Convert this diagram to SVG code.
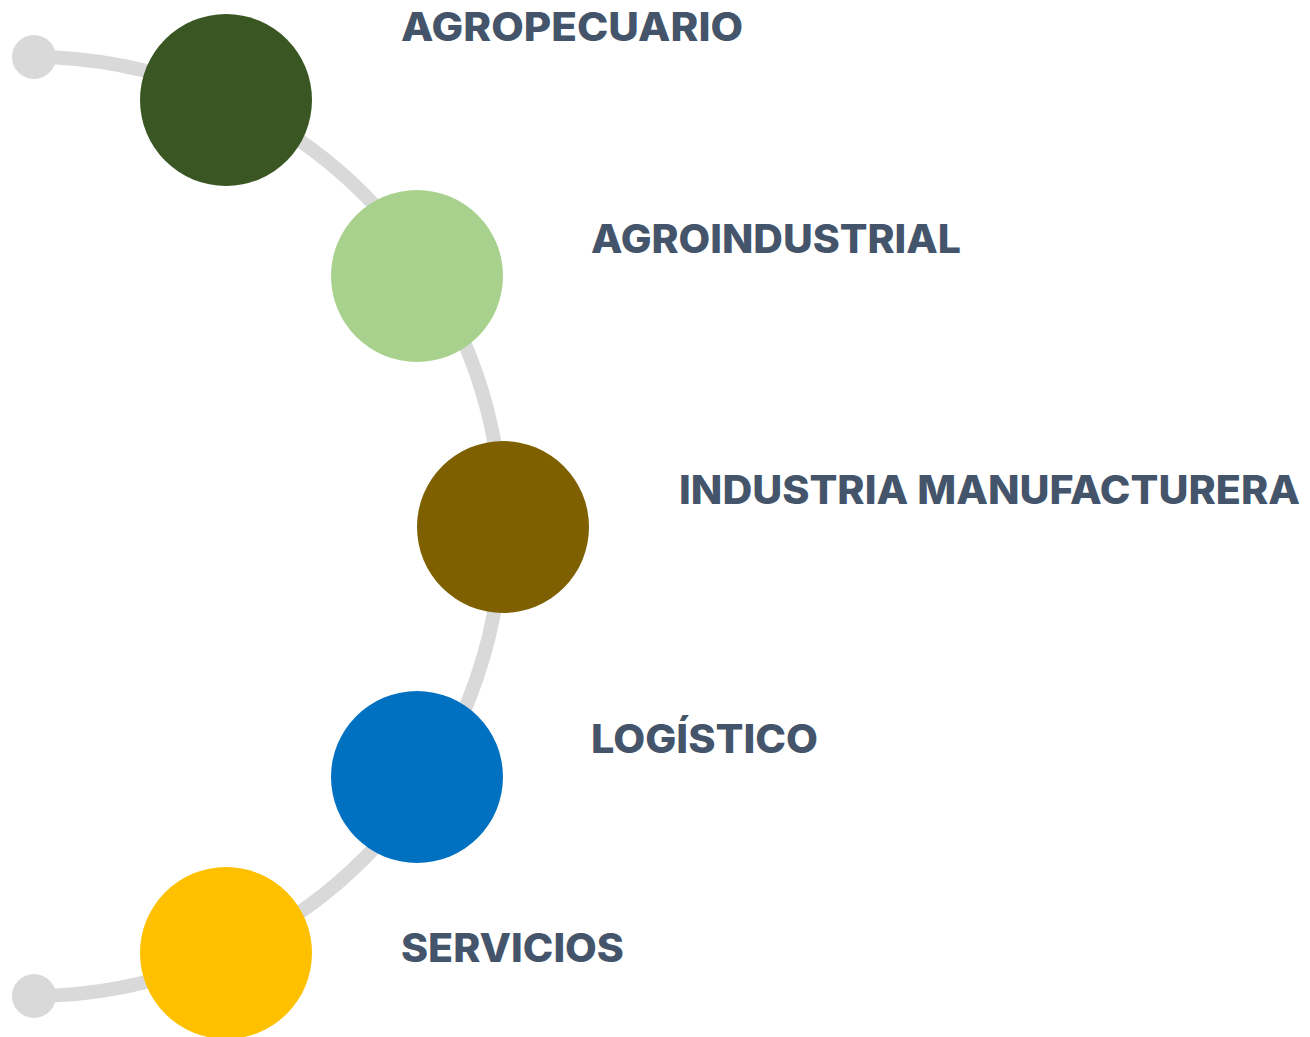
<svg xmlns="http://www.w3.org/2000/svg" width="1310" height="1037" viewBox="0 0 1310 1037">
  <style>
    .lbl { font-family: "Inter", "Open Sans", "DejaVu Sans", sans-serif; font-weight: 800; font-size: 39px; fill: #44546a; }
    .track { fill: none; stroke: #d9d9d9; stroke-width: 14; }
    .dot { fill: #d9d9d9; }
  </style>
  <rect width="1310" height="1037" fill="#ffffff"/>
  <g id="connectors">
    <path class="track" d="M34,57 A470,470 0 0 1 502,527 A470,470 0 0 1 34,996"/>
    <circle class="dot" cx="34" cy="57" r="22"/>
    <circle class="dot" cx="34" cy="996" r="22"/>
  </g>
  <g id="node-agropecuario">
    <circle cx="226" cy="100" r="86" fill="#3a5723"/>
    <text class="lbl" x="401" y="41" textLength="342" lengthAdjust="spacingAndGlyphs">AGROPECUARIO</text>
  </g>
  <g id="node-agroindustrial">
    <circle cx="417" cy="276" r="86" fill="#a9d18e"/>
    <text class="lbl" x="591" y="253" textLength="370" lengthAdjust="spacingAndGlyphs">AGROINDUSTRIAL</text>
  </g>
  <g id="node-industria">
    <circle cx="503" cy="527" r="86" fill="#7f6000"/>
    <text class="lbl" x="679" y="504" textLength="621" lengthAdjust="spacingAndGlyphs">INDUSTRIA MANUFACTURERA</text>
  </g>
  <g id="node-logistico">
    <circle cx="417" cy="777" r="86" fill="#0070c0"/>
    <text class="lbl" x="591" y="753" textLength="227" lengthAdjust="spacingAndGlyphs">LOGÍSTICO</text>
  </g>
  <g id="node-servicios">
    <circle cx="226" cy="953" r="86" fill="#ffc000"/>
    <text class="lbl" x="401" y="962" textLength="223" lengthAdjust="spacingAndGlyphs">SERVICIOS</text>
  </g>
</svg>
